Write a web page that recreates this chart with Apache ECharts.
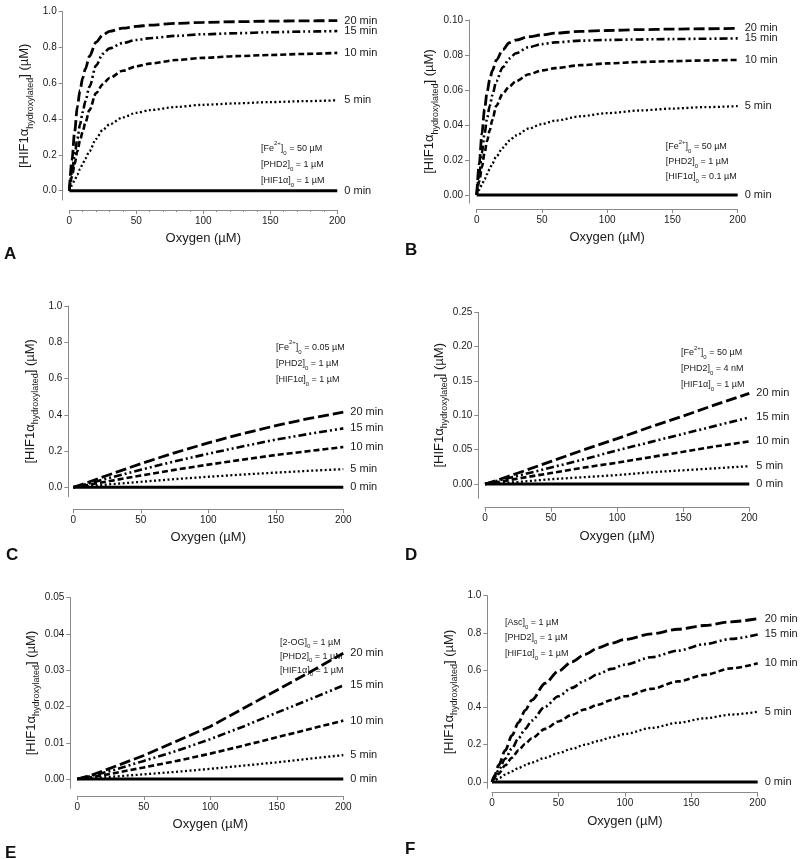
<!DOCTYPE html>
<html><head><meta charset="utf-8">
<script src="https://cdn.jsdelivr.net/npm/echarts@6/dist/echarts.min.js"></script>
<style>html,body{margin:0;padding:0;background:#fff}#c{width:800px;height:859px}</style>
</head><body><div id="c"></div>
<script>
// ---- data ----
const times = ['20 min', '15 min', '10 min', '5 min', '0 min'];
const xSat = [0,2,4,6,8,10,12,15,20,25,30,40,50,60,80,100,125,150,175,200];
const xLin = [0,10,25,50,75,100,125,150,175,200];
const xF   = [0,2,5,10,15,20,25,30,40,50,60,70,80,90,100,120,140,160,180,200];
const xZero = [0,200];
const zero = [0,0];

const a20 = [0,0.17,0.33,0.47,0.56,0.63,0.68,0.75,0.83,0.87,0.89,0.908,0.918,0.925,0.935,0.94,0.944,0.947,0.949,0.95];
const a15 = [0,0.1,0.2,0.29,0.37,0.44,0.5,0.58,0.7,0.765,0.795,0.825,0.842,0.852,0.865,0.874,0.88,0.885,0.889,0.892];
const a10 = [0,0.08,0.15,0.22,0.28,0.33,0.38,0.45,0.545,0.595,0.63,0.67,0.695,0.71,0.73,0.742,0.752,0.758,0.764,0.77];
const a5  = [0,0.03,0.06,0.09,0.12,0.15,0.18,0.22,0.29,0.34,0.37,0.41,0.435,0.45,0.468,0.48,0.488,0.495,0.5,0.505];

const b20 = [0,0.018,0.035,0.049,0.059,0.066,0.071,0.077,0.083,0.087,0.0885,0.0905,0.0915,0.0925,0.0935,0.094,0.0945,0.0948,0.095,0.0952];
const b15 = [0,0.012,0.024,0.035,0.044,0.051,0.057,0.065,0.073,0.078,0.081,0.0845,0.0862,0.0872,0.0882,0.0886,0.0889,0.0891,0.0893,0.0895];
const b10 = [0,0.008,0.016,0.024,0.031,0.037,0.043,0.051,0.058,0.062,0.065,0.069,0.0712,0.0725,0.0742,0.0752,0.076,0.0765,0.0769,0.0772];
const b5  = [0,0.003,0.006,0.009,0.012,0.015,0.018,0.022,0.027,0.031,0.034,0.038,0.0405,0.0425,0.045,0.0468,0.0483,0.0494,0.0502,0.0508];

const c20 = [0,0.025,0.065,0.13,0.19,0.245,0.295,0.34,0.38,0.415];
const c15 = [0,0.018,0.048,0.097,0.143,0.185,0.225,0.263,0.295,0.325];
const c10 = [0,0.012,0.032,0.065,0.096,0.125,0.152,0.178,0.2,0.222];
const c5  = [0,0.006,0.015,0.03,0.045,0.058,0.07,0.081,0.091,0.1];

const d20 = [0,0.006,0.016,0.033,0.05,0.066,0.083,0.099,0.116,0.132];
const d15 = [0,0.005,0.012,0.024,0.036,0.049,0.061,0.073,0.085,0.097];
const d10 = [0,0.003,0.008,0.016,0.024,0.031,0.039,0.047,0.055,0.062];
const d5  = [0,0.001,0.003,0.007,0.010,0.013,0.017,0.020,0.023,0.026];

const e20 = [0,0.001,0.003,0.0065,0.0105,0.0145,0.0195,0.0245,0.0295,0.0347];
const e15 = [0,0.0008,0.0022,0.005,0.0078,0.011,0.0145,0.0183,0.022,0.0258];
const e10 = [0,0.0005,0.0014,0.0032,0.005,0.007,0.0092,0.0115,0.0138,0.0161];
const e5  = [0,0.0002,0.0006,0.0013,0.002,0.0028,0.0037,0.0046,0.0056,0.0066];

const f20 = [0,0.035,0.09,0.17,0.25,0.32,0.385,0.44,0.53,0.595,0.645,0.685,0.72,0.745,0.765,0.795,0.82,0.84,0.86,0.877];
const f15 = [0,0.025,0.065,0.125,0.18,0.235,0.285,0.33,0.405,0.46,0.505,0.545,0.58,0.607,0.63,0.67,0.705,0.74,0.768,0.792];
const f10 = [0,0.02,0.045,0.09,0.13,0.17,0.205,0.235,0.285,0.325,0.36,0.39,0.415,0.44,0.46,0.5,0.54,0.575,0.61,0.637];
const f5  = [0,0.008,0.02,0.04,0.058,0.075,0.09,0.105,0.13,0.155,0.178,0.2,0.22,0.24,0.258,0.29,0.318,0.342,0.362,0.377];

const yTicks1 = [0,0.2,0.4,0.6,0.8,1.0];
const yTicksB = [0,0.02,0.04,0.06,0.08,0.10];
const yTicksD = [0,0.05,0.10,0.15,0.20,0.25];
const yTicksE = [0,0.01,0.02,0.03,0.04,0.05];

const notesA = ['[Fe{sup|2+}]{sub|0} = 50 µM', '[PHD2]{sub|0} = 1 µM', '[HIF1α]{sub|0} = 1 µM'];
const notesB = ['[Fe{sup|2+}]{sub|0} = 50 µM', '[PHD2]{sub|0} = 1 µM', '[HIF1α]{sub|0} = 0.1 µM'];
const notesC = ['[Fe{sup|2+}]{sub|0} = 0.05 µM', '[PHD2]{sub|0} = 1 µM', '[HIF1α]{sub|0} = 1 µM'];
const notesD = ['[Fe{sup|2+}]{sub|0} = 50 µM', '[PHD2]{sub|0} = 4 nM', '[HIF1α]{sub|0} = 1 µM'];
const notesE = ['[2-OG]{sub|0} = 1 µM', '[PHD2]{sub|0} = 1 µM', '[HIF1α]{sub|0} = 1 µM'];
const notesF = ['[Asc]{sub|0} = 1 µM', '[PHD2]{sub|0} = 1 µM', '[HIF1α]{sub|0} = 1 µM'];

// ---- layout ----
const panels = [
  {letter:'A', x:xSat, ys:[a20,a15,a10,a5], yT:yTicks1, dec:1, yMax:1.0, smooth:0.3,
   g:{left:69.3,width:268,top:11.7,height:188.3}, yMin:-0.052, yOff:6.6, xOff:10, minor:true,
   note:notesA, nx:261, ny:140.5, nlh:13, lx:4, ly:246},
  {letter:'B', x:xSat, ys:[b20,b15,b10,b5], yT:yTicksB, dec:2, yMax:0.10, smooth:0.3,
   g:{left:476.7,width:261,top:20,height:183}, yMin:-0.00457, yOff:7.7, xOff:6,
   note:notesB, nx:665.7, ny:139.5, nlh:12, lx:405, ly:242},
  {letter:'C', x:xLin, ys:[c20,c15,c10,c5], yT:yTicks1, dec:1, yMax:1.0, smooth:false,
   g:{left:73.3,width:270,top:306,height:190.7}, yMin:-0.052, yOff:5, xOff:12.6,
   note:notesC, nx:276, ny:339.5, nlh:13, lx:6, ly:547},
  {letter:'D', x:xLin, ys:[d20,d15,d10,d5], yT:yTicksD, dec:2, yMax:0.25, smooth:false,
   g:{left:485,width:264.3,top:312.3,height:186}, yMin:-0.0208, yOff:6.7, xOff:9.4,
   note:notesD, nx:681, ny:345, nlh:12.8, lx:405, ly:547},
  {letter:'E', x:xLin, ys:[e20,e15,e10,e5], yT:yTicksE, dec:2, yMax:0.05, smooth:false,
   g:{left:77.3,width:266,top:597.7,height:190.6}, yMin:-0.00256, yOff:7, xOff:7.7,
   note:notesE, nx:280, ny:635.5, nlh:11, lx:5, ly:845},
  {letter:'F', x:xF, ys:[f20,f15,f10,f5], yT:yTicks1, dec:1, yMax:1.0, smooth:0.3,
   g:{left:492,width:265.7,top:595.7,height:192.6}, yMin:-0.0338, yOff:4.7, xOff:4.4,
   note:notesF, nx:505, ny:614.5, nlh:12.5, lx:405, ly:841}
];

const FONT = '"Liberation Sans", Arial, sans-serif';
const AX = '#8a8a8a';
const TXT = '#1a1a1a';
const styles = [
  {type:[11,4], width:2.8},
  {type:[8,3,2,3,2,3], width:2.6},
  {type:[6,3], width:2.6},
  {type:[2,2.5], width:2.3},
  {type:'solid', width:3}
];

const grid = [], xAxis = [], yAxis = [], series = [], graphic = [];
panels.forEach((p, i) => {
  grid.push(Object.assign({containLabel:false}, p.g));
  xAxis.push({
    type:'value', gridIndex:i, min:0, max:200, interval:50, offset:p.xOff,
    axisLine:{onZero:false, lineStyle:{color:AX, width:1}},
    axisTick:{length:4, lineStyle:{color:AX}},
    minorTick:{show:!!p.minor, splitNumber:5, length:2, lineStyle:{color:AX}},
    axisLabel:{fontSize:10, color:TXT, fontFamily:FONT, margin:6},
    splitLine:{show:false},
    name:'Oxygen (µM)', nameLocation:'middle', nameGap:22,
    nameTextStyle:{fontSize:13, color:TXT, fontFamily:FONT}
  });
  yAxis.push({
    type:'value', gridIndex:i, min:p.yMin, max:p.yMax, offset:p.yOff,
    axisLine:{show:true, onZero:false, lineStyle:{color:AX, width:1}},
    axisTick:{show:true, length:4, customValues:p.yT, lineStyle:{color:AX}},
    axisLabel:{fontSize:10, color:TXT, fontFamily:FONT, margin:6, customValues:p.yT,
      formatter: v => v.toFixed(p.dec)},
    splitLine:{show:false},
    name:'[HIF1α{sub|hydroxylated}] (µM)', nameLocation:'middle', nameGap:28,
    nameTextStyle:{fontSize:13, color:TXT, fontFamily:FONT,
      rich:{sub:{fontSize:9, color:TXT, fontFamily:FONT, verticalAlign:'bottom', lineHeight:20}}}
  });
  const all = p.ys.concat([zero]);
  all.forEach((ys, k) => {
    const xs = k === 4 ? xZero : p.x;
    series.push({
      type:'line', xAxisIndex:i, yAxisIndex:i,
      data: xs.map((x, j) => [x, ys[j]]),
      showSymbol:false, smooth:k===4?false:p.smooth, smoothMonotone:'x',
      lineStyle:{color:'#000', type:styles[k].type, width:styles[k].width, cap:'butt'},
      endLabel:{show:true, formatter:times[k], distance:7, fontSize:11, color:TXT, fontFamily:FONT},
      silent:true, z:5-k
    });
  });
  graphic.push({
    type:'text', left:p.nx, top:p.ny, silent:true,
    style:{
      text:p.note.join('\n'), fontSize:9, lineHeight:p.nlh, fill:TXT, fontFamily:FONT,
      rich:{
        sup:{fontSize:6, fill:TXT, fontFamily:FONT, verticalAlign:'top', lineHeight:p.nlh},
        sub:{fontSize:6, fill:TXT, fontFamily:FONT, verticalAlign:'bottom', lineHeight:p.nlh+3}
      }
    }
  });
  graphic.push({
    type:'text', left:p.lx, top:p.ly, silent:true,
    style:{text:p.letter, fontSize:17, fontWeight:'bold', fill:'#111', fontFamily:FONT}
  });
});

const chart = echarts.init(document.getElementById('c'), null, {renderer:'canvas'});
chart.setOption({animation:false, backgroundColor:'#fff', grid, xAxis, yAxis, series, graphic});
</script>
</body></html>
